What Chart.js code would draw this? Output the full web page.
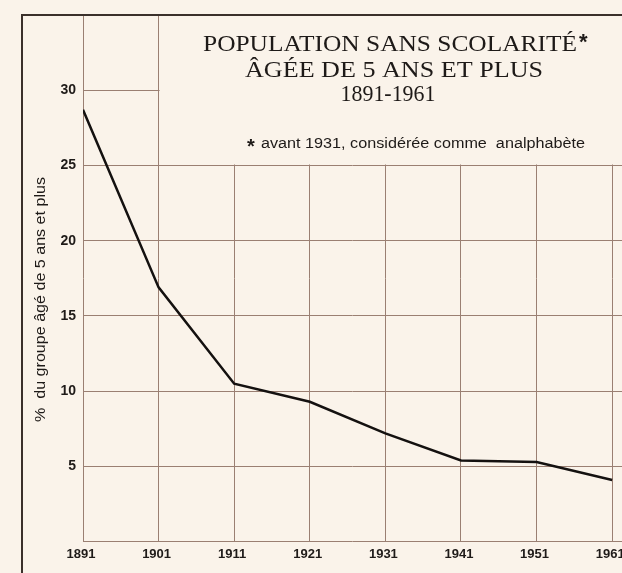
<!DOCTYPE html>
<html>
<head>
    <title>Population sans scolarité</title>
    <style>
        body {
            margin: 0;
            background: #faf3ea;
        }

        .chart-container {
            width: 622px;
            height: 573px;
            position: relative;
        }
    </style>
    <script src="https://cdn.jsdelivr.net/npm/chart.js"></script>
</head>
<body>

    <div class="chart-container">
        <canvas id="popChart"></canvas>
    </div>

    <script>
        const years = [1891, 1901, 1911, 1921, 1931, 1941, 1951, 1961];
        const percentages = [28.7, 16.9, 10.5, 9.3, 7.2, 5.4, 5.3, 4.1];
        const yTicks = [5, 10, 15, 20, 25, 30];
        const titleLines = ['POPULATION SANS SCOLARITÉ', 'ÂGÉE DE 5 ANS ET PLUS', '1891-1961'];
        const noteText = 'avant 1931, considérée comme  analphabète';
        const yAxisTitle = '%  du groupe âgé de 5 ans et plus';

        const bg = '#faf3ea';
        const gridColor = '#9a7f72';
        const ink = '#1e1a18';

        // the scanned lettering is a bit wider than our fonts, so stretch it to width
        function fillFit(ctx, text, x, y, w) {
            const m = ctx.measureText(text).width;
            ctx.save();
            ctx.translate(x, y);
            ctx.scale(w / m, 1);
            ctx.fillText(text, 0, 0);
            ctx.restore();
        }

        const decorPlugin = {
            id: 'decor',
            beforeDatasetsDraw(chart) {
                const ctx = chart.ctx;
                const x = chart.scales.x, y = chart.scales.y;
                const area = chart.chartArea;
                // blank out the grid behind the title
                ctx.save();
                ctx.fillStyle = bg;
                const left = x.getPixelForValue(1901) + 1;
                const bottom = y.getPixelForValue(25) - 1;
                ctx.fillRect(left, area.top + 1, chart.width - left, bottom - area.top - 1);
                ctx.restore();
            },
            afterDraw(chart) {
                const ctx = chart.ctx;
                const area = chart.chartArea;
                ctx.save();
                ctx.strokeStyle = '#3a302b';
                ctx.lineWidth = 2;
                ctx.beginPath();
                ctx.moveTo(22, chart.height);
                ctx.lineTo(22, area.top);
                ctx.lineTo(chart.width, area.top);
                ctx.stroke();

                ctx.fillStyle = ink;
                ctx.textAlign = 'center';
                ctx.textBaseline = 'alphabetic';
                ctx.font = '23px "Liberation Serif", "DejaVu Serif", serif';
                fillFit(ctx, titleLines[0], 390, 51, 374);
                fillFit(ctx, titleLines[1], 394, 77, 298);
                fillFit(ctx, titleLines[2], 388, 101, 95);
                ctx.font = 'bold 22px "Liberation Sans", Arial, sans-serif';
                ctx.textAlign = 'left';
                ctx.fillText('*', 579, 49);

                ctx.font = '14px "Liberation Sans", Arial, sans-serif';
                ctx.textAlign = 'left';
                fillFit(ctx, noteText, 261, 148, 324);
                ctx.font = 'bold 20px "Liberation Sans", Arial, sans-serif';
                ctx.fillText('*', 247, 153);

                // y axis title
                ctx.translate(41, 300);
                ctx.rotate(-Math.PI / 2);
                ctx.textAlign = 'left';
                ctx.textBaseline = 'middle';
                ctx.font = '15px "Liberation Sans", Arial, sans-serif';
                fillFit(ctx, yAxisTitle, -122, 0, 245);
                ctx.restore();
            }
        };

        new Chart(document.getElementById('popChart'), {
            type: 'line',
            data: {
                datasets: [{
                    data: years.map((yr, i) => ({ x: yr, y: percentages[i] })),
                    borderColor: '#141110',
                    borderWidth: 2.5,
                    pointRadius: 0,
                    tension: 0,
                    fill: false
                }]
            },
            options: {
                responsive: true,
                maintainAspectRatio: false,
                animation: false,
                layout: { padding: { top: 15, right: 0, left: 0, bottom: 0 } },
                plugins: {
                    legend: { display: false },
                    tooltip: { enabled: false }
                },
                scales: {
                    x: {
                        type: 'linear',
                        min: 1891,
                        max: 1962.3,
                        afterBuildTicks: s => { s.ticks = years.map(v => ({ value: v })); },
                        afterFit: s => {
                            s.height = 31.3;
                            s.paddingLeft = 0;
                            s.paddingRight = 0;
                        },
                        border: { display: false },
                        grid: { color: gridColor, lineWidth: 1, drawTicks: false },
                        ticks: {
                            padding: 5,
                            labelOffset: -2,
                            color: ink,
                            font: { family: '"Liberation Sans", Arial, sans-serif', size: 13, weight: 'bold' },
                            callback: v => String(v)
                        }
                    },
                    y: {
                        min: 0,
                        max: 35,
                        afterBuildTicks: s => { s.ticks = [0].concat(yTicks, [35]).map(v => ({ value: v })); },
                        afterFit: s => {
                            s.width = 83;
                            s.paddingTop = 0;
                            s.paddingBottom = 0;
                        },
                        border: { display: false },
                        grid: { color: gridColor, lineWidth: 1, drawTicks: false },
                        ticks: {
                            padding: 7,
                            color: ink,
                            font: { family: '"Liberation Sans", Arial, sans-serif', size: 14, weight: 'bold' },
                            callback: v => yTicks.includes(v) ? String(v) : ''
                        }
                    }
                }
            },
            plugins: [decorPlugin]
        });
    </script>

</body>
</html>
